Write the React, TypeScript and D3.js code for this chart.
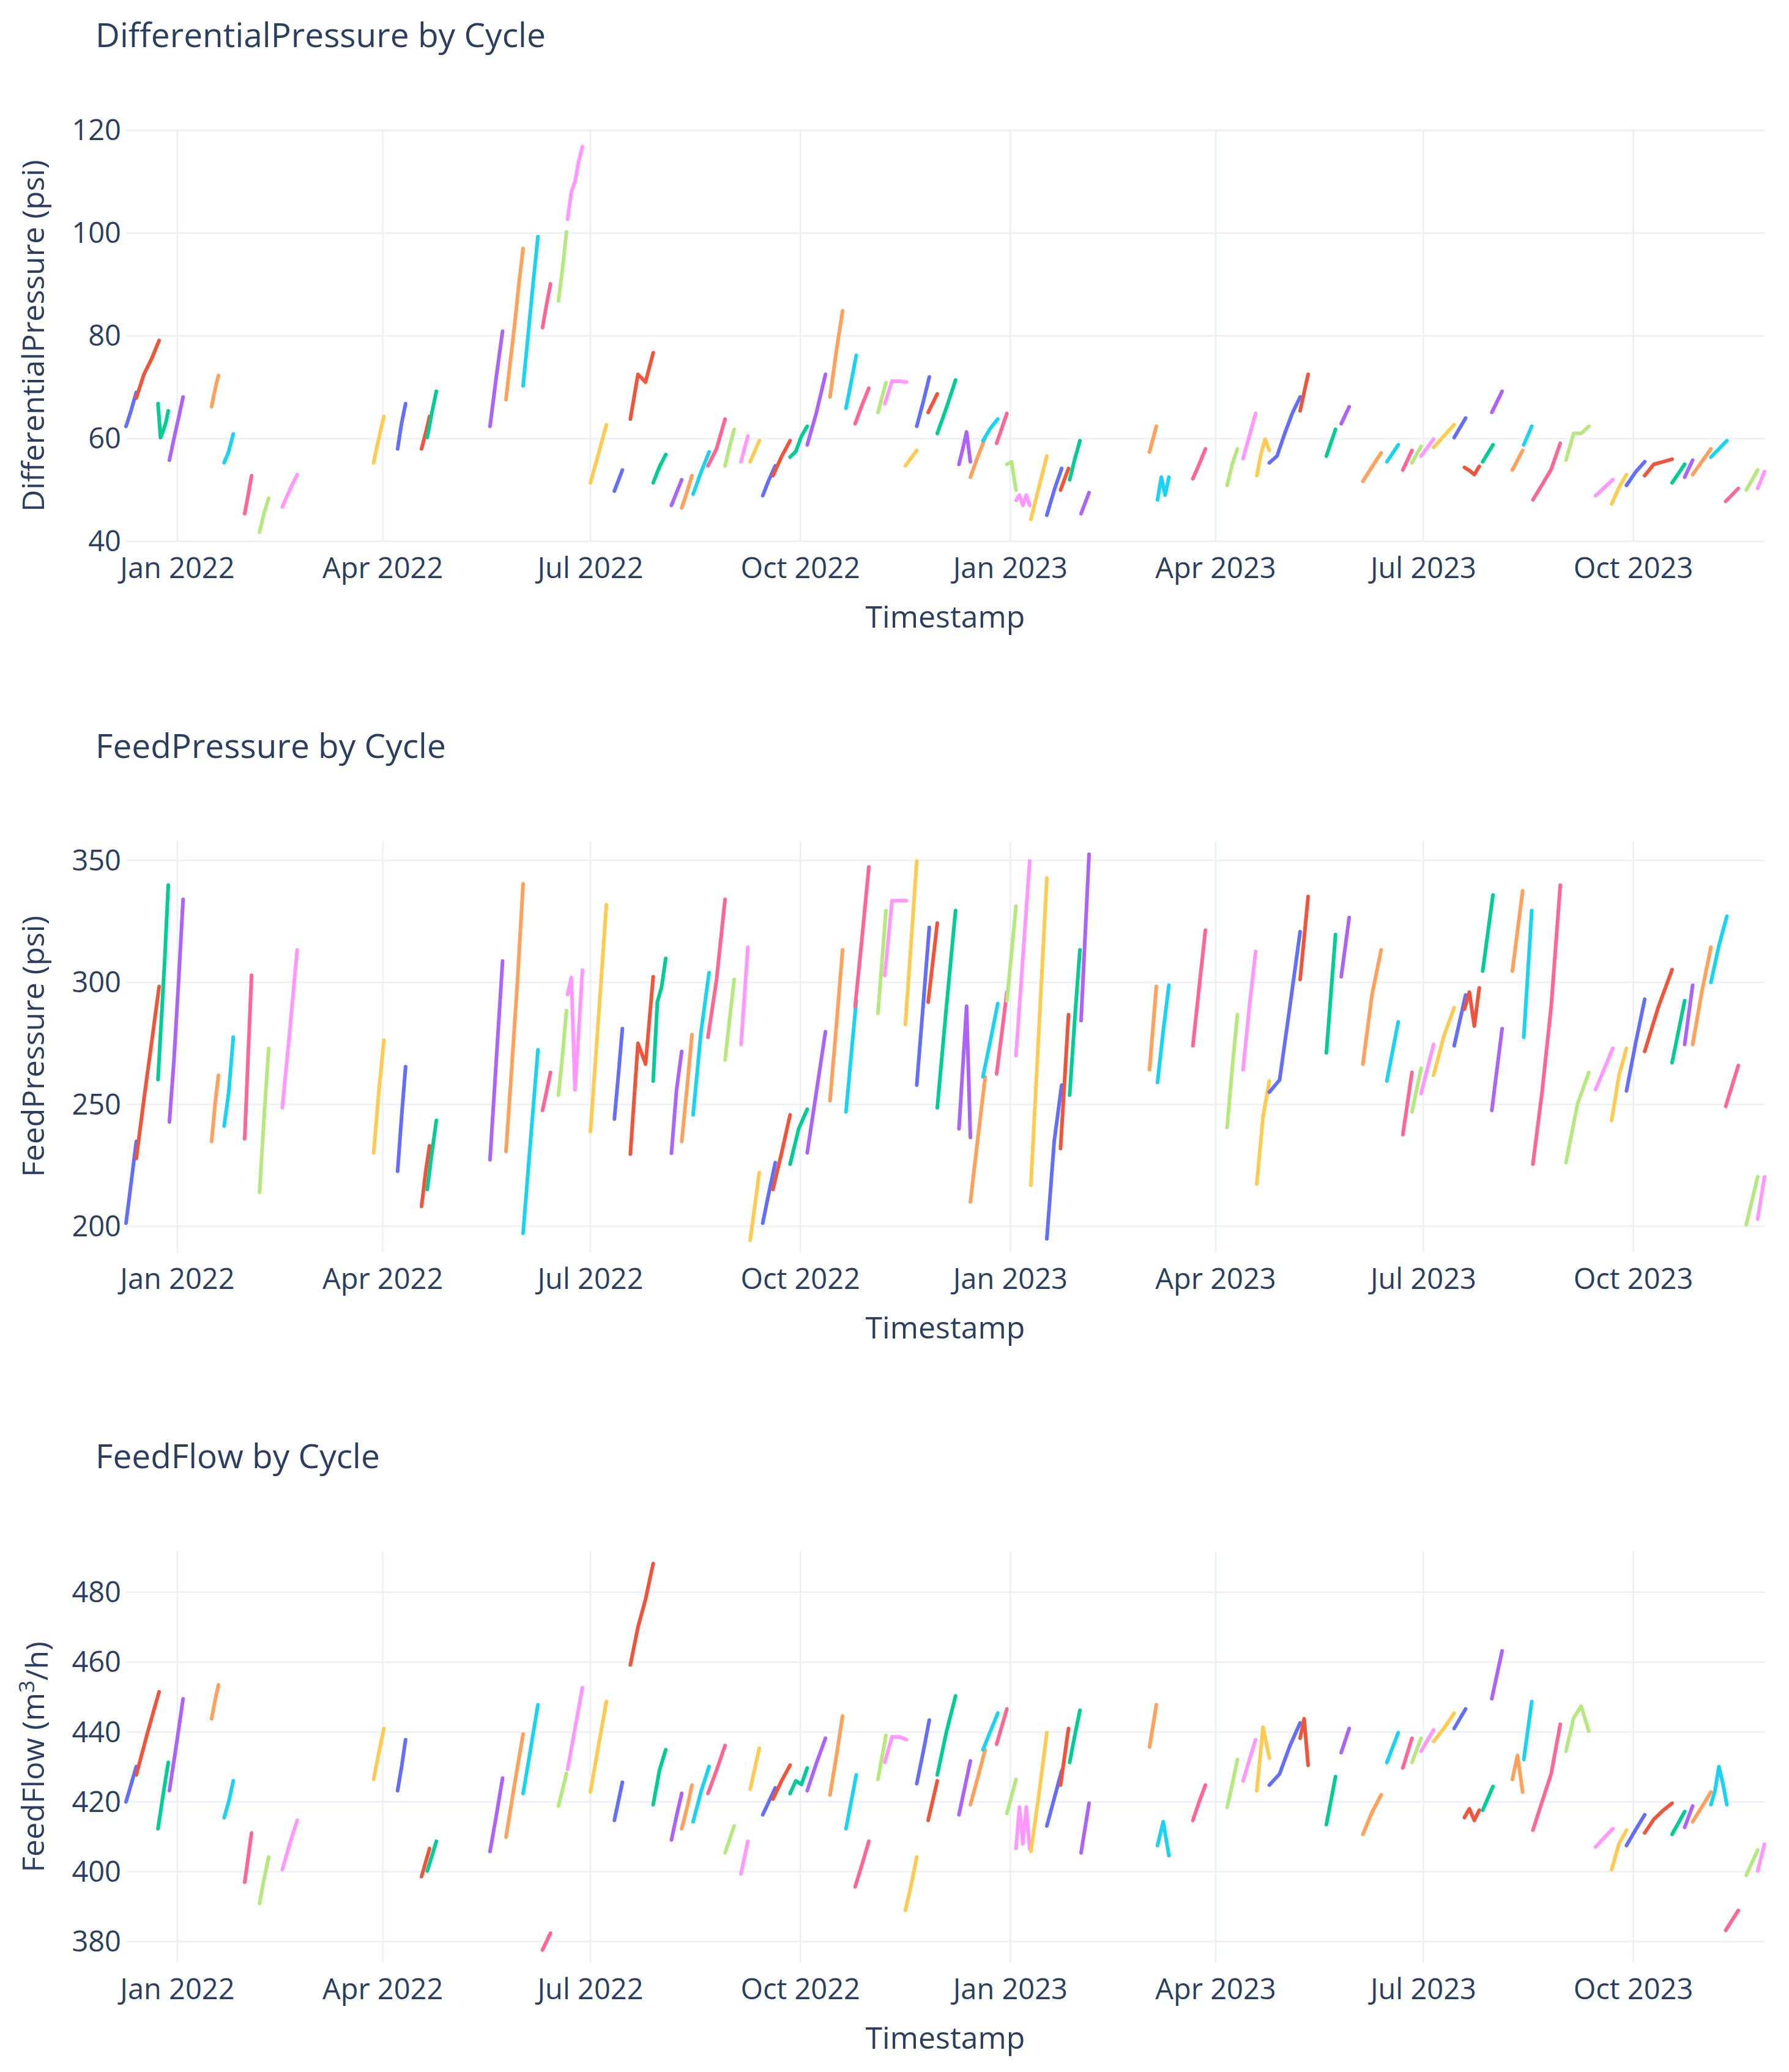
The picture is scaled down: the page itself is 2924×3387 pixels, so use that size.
import { useEffect, useRef } from "react";
import * as d3 from "d3";

// one entry per cleaning cycle (start / end of each run)
const cycleStart = [
  "2021-12-09T12", "2021-12-14T00", "2021-12-23T12", "2021-12-28T12", "2022-01-16T00",
  "2022-01-21T12", "2022-01-30T12", "2022-02-06T00", "2022-02-16T00", "2022-03-28T00",
  "2022-04-07T12", "2022-04-18T00", "2022-04-20T12", "2022-05-18T00", "2022-05-25T00",
  "2022-06-01T12", "2022-06-10T00", "2022-06-17T00", "2022-06-21T00", "2022-07-01T00",
  "2022-07-11T12", "2022-07-18T12", "2022-07-28T12", "2022-08-05T12", "2022-08-10T00",
  "2022-08-15T00", "2022-08-21T12", "2022-08-29T00", "2022-09-05T00", "2022-09-09T00",
  "2022-09-14T12", "2022-09-19T00", "2022-09-26T12", "2022-10-04T00", "2022-10-14T00",
  "2022-10-21T00", "2022-10-25T00", "2022-11-04T00", "2022-11-07T00", "2022-11-16T00",
  "2022-11-21T00", "2022-11-26T00", "2022-11-30T00", "2022-12-09T12", "2022-12-14T12",
  "2022-12-20T00", "2022-12-26T00", "2022-12-30T12", "2023-01-03T12", "2023-01-10T00",
  "2023-01-17T00", "2023-01-23T00", "2023-01-27T00", "2023-02-01T00", "2023-03-03T00",
  "2023-03-06T12", "2023-03-22T00", "2023-04-06T00", "2023-04-13T00", "2023-04-19T00",
  "2023-04-24T12", "2023-05-08T00", "2023-05-19T12", "2023-05-26T00", "2023-06-04T12",
  "2023-06-15T00", "2023-06-22T00", "2023-06-26T00", "2023-06-30T00", "2023-07-05T12",
  "2023-07-14T12", "2023-07-19T00", "2023-07-27T00", "2023-07-31T00", "2023-08-09T00",
  "2023-08-14T00", "2023-08-18T00", "2023-09-01T12", "2023-09-14T12", "2023-09-21T12",
  "2023-09-28T00", "2023-10-06T00", "2023-10-18T00", "2023-10-23T12", "2023-10-27T00",
  "2023-11-04T00", "2023-11-10T12", "2023-11-19T12", "2023-11-24T12",
];

const cycleEnd = [
  "2021-12-14T00", "2021-12-24T00", "2021-12-28T00", "2022-01-03T12", "2022-01-19T00",
  "2022-01-25T12", "2022-02-02T12", "2022-02-10T00", "2022-02-22T12", "2022-04-01T12",
  "2022-04-11T00", "2022-04-21T12", "2022-04-24T12", "2022-05-23T12", "2022-06-01T12",
  "2022-06-08T00", "2022-06-13T12", "2022-06-20T12", "2022-06-27T12", "2022-07-08T00",
  "2022-07-15T00", "2022-07-28T12", "2022-08-03T00", "2022-08-10T00", "2022-08-14T12",
  "2022-08-22T00", "2022-08-29T00", "2022-09-02T00", "2022-09-08T00", "2022-09-13T00",
  "2022-09-20T00", "2022-09-26T12", "2022-10-04T00", "2022-10-12T00", "2022-10-19T12",
  "2022-10-25T12", "2022-10-31T00", "2022-11-07T12", "2022-11-16T12", "2022-11-21T00",
  "2022-11-26T12", "2022-11-30T00", "2022-12-08T00", "2022-12-14T12", "2022-12-21T00",
  "2022-12-26T12", "2022-12-30T12", "2023-01-03T12", "2023-01-09T12", "2023-01-17T00",
  "2023-01-23T12", "2023-01-26T12", "2023-01-31T12", "2023-02-04T12", "2023-03-06T00",
  "2023-03-11T12", "2023-03-27T12", "2023-04-10T12", "2023-04-18T12", "2023-04-24T12",
  "2023-05-08T00", "2023-05-11T12", "2023-05-23T12", "2023-05-29T12", "2023-06-12T12",
  "2023-06-20T00", "2023-06-26T00", "2023-06-30T00", "2023-07-05T12", "2023-07-14T12",
  "2023-07-19T12", "2023-07-25T12", "2023-07-31T12", "2023-08-04T12", "2023-08-13T12",
  "2023-08-17T12", "2023-08-30T00", "2023-09-11T12", "2023-09-22T00", "2023-09-28T00",
  "2023-10-06T00", "2023-10-18T00", "2023-10-23T12", "2023-10-27T00", "2023-11-04T00",
  "2023-11-11T00", "2023-11-16T00", "2023-11-24T12", "2023-11-27T12",
];

// readings along each cycle, evenly spaced in time between start and end
const dpValues = [
  [62.4, 65.5, 69], [67.9, 72.5, 75.5, 79.1], [66.8, 60.2, 61.5, 63, 65.4], [55.8, 60, 64, 68.1],
  [66.2, 68.5, 70.5, 72.3], [55.3, 57.5, 60.9], [45.4, 49, 52.8], [41.8, 45.5, 48.4],
  [46.7, 50, 53], [55.3, 58.5, 61.5, 64.3], [58, 63, 66.8], [58, 61, 64.3],
  [60.2, 65, 69.2], [62.4, 72, 80.9], [67.6, 75, 82, 90, 97], [70.3, 80, 90, 99.3],
  [81.6, 86, 90.1], [86.8, 93, 100.2], [102.7, 108, 110, 114, 116.8], [51.4, 57, 62.7],
  [49.8, 53.9], [63.8, 72.5, 71, 76.7], [51.4, 54.5, 56.9], [47, 49.5, 52],
  [46.5, 49.5, 52.8], [49.2, 53.5, 57.4], [54.7, 58, 63.8], [54.7, 58.5, 61.8],
  [55.5, 60.5], [55.5, 59.6], [48.9, 52, 54.7], [52.8, 56.5, 59.6],
  [56.4, 57.5, 60.5, 62.4], [58.8, 65, 72.5], [68.1, 77, 84.9], [65.9, 71, 76.2],
  [62.9, 66.5, 69.8], [65.1, 70.9], [66.8, 71.2, 71.2, 71], [54.7, 57.7],
  [62.4, 67, 72], [65.1, 68.7], [61, 66, 71.4], [55, 58, 61.3, 55.5],
  [52.5, 56.5, 60.2], [59.6, 62, 63.8], [59.1, 62, 64.9], [55, 55.5, 50],
  [48, 49, 47, 49, 47], [44.3, 50.5, 56.6], [45.1, 50, 54.2], [50, 54.2],
  [52, 56, 59.6], [45.4, 49.5], [57.4, 62.4], [48.1, 52.5, 49, 52.5],
  [52.2, 55, 58], [50.9, 55, 58], [56.1, 60.5, 64.9], [52.8, 57, 59.9, 57.7],
  [55.3, 56.6, 61, 65, 68.1], [65.4, 69, 72.5], [56.6, 61.8], [62.9, 66.2],
  [51.7, 54.5, 57.2], [55.5, 58.8], [53.9, 57.7], [55.3, 58.5],
  [56.6, 59.9], [58.3, 60.5, 62.7], [60.2, 64], [54.4, 53.8, 53, 54.6],
  [55.5, 58.8], [65.1, 69.2], [53.9, 57.7], [58.8, 62.4],
  [48.1, 51, 54, 59.1], [55.8, 61, 61, 62.4], [48.9, 52], [47.3, 50.5, 53],
  [50.9, 53.5, 55.5], [52.8, 55, 55.5, 56], [51.4, 55], [52.5, 55.8],
  [53, 55.5, 58], [56.4, 58, 59.6], [47.8, 50.3], [50, 53.9], [50.3, 53.6],
];

const fpValues = [
  [201.3, 218, 234.8], [227.8, 252, 275, 298.3], [260.2, 285, 310, 339.8], [242.8, 268, 300, 334],
  [234.8, 250, 261.9], [241.1, 255, 277.5], [235.9, 270, 302.9], [213.9, 245, 272.9],
  [248.6, 280, 313.3], [230.1, 255, 276.3], [222.6, 245, 265.4], [208.2, 222, 233],
  [215.1, 230, 243.4], [227.3, 268, 308.7], [230.7, 265, 300, 340.4], [197.2, 235, 272.3],
  [247.5, 255, 263.1], [253.8, 270, 288.5], [295, 302, 256, 280, 305], [238.8, 285, 331.8],
  [244, 262, 281], [229.6, 275, 266.5, 302.3], [259.6, 292, 298, 309.8], [230, 256, 271.7],
  [234.8, 256, 278.6], [245.7, 280, 304], [277.5, 301, 334], [268.2, 285, 301.2],
  [274.6, 314.4], [194.3, 222], [201.3, 214, 226.1], [215.1, 230, 245.7],
  [225.5, 240, 248], [230.1, 255, 279.8], [251.5, 282, 313.3], [246.9, 270, 292.5],
  [290.2, 318, 347.3], [287.3, 329.4], [302.9, 333.5, 333.5, 333.5], [282.7, 316, 349.7],
  [257.9, 290, 322.5], [291.9, 324.3], [248.6, 290, 329.4], [240, 265, 290.2, 236.5],
  [210, 236, 261.3], [261.3, 276, 291.3], [262.5, 279, 296], [292.5, 331.2],
  [270, 310, 349.7], [216.9, 280, 342.7], [194.9, 235, 257.9], [231.9, 286.7],
  [253.8, 285, 313.3], [284.4, 352.5], [264.2, 298.3], [259, 280, 298.8],
  [274, 298, 321.4], [240.5, 265, 286.7], [264.2, 290, 312.7], [217.4, 245, 259.6],
  [255, 260, 290, 320.8], [301.2, 335.2], [271.1, 319.6], [302.3, 326.6],
  [266.5, 295, 313.3], [259.6, 283.8], [237.6, 263.1], [246.9, 264.8],
  [254.4, 274.6], [261.9, 278, 289.6], [274, 294.8], [289, 296, 282.1, 297.7],
  [304.6, 335.8], [247.5, 281], [304.6, 337.5], [277.5, 329.4],
  [225.5, 255, 290, 339.8], [226.1, 250, 263.1], [256.1, 272.9], [243.4, 262, 272.9],
  [255.5, 275, 293.1], [271.7, 290, 305.2], [267.1, 292.5], [274.6, 298.8],
  [274.6, 296, 314.4], [300, 315, 327.1], [249.2, 265.9], [200.7, 220.3], [203, 220.3],
];

const ffValues = [
  [420, 430.1], [427.7, 440, 451.5], [412.3, 422, 431.3], [423.2, 436, 449.5],
  [443.8, 449, 453.5], [415.5, 420, 426], [397, 404, 411.1], [390.9, 398, 404.2],
  [400.6, 408, 414.7], [426.4, 434, 441], [423.2, 430, 437.8], [398.6, 406.6],
  [400.2, 408.7], [405.8, 416, 426.8], [409.9, 425, 439.4], [422.4, 435, 447.8],
  [377.6, 382.4], [418.8, 428.1], [429.3, 441, 452.7], [422.8, 436, 448.7],
  [414.7, 425.6], [459.2, 470, 478, 488.2], [419.2, 429, 434.9], [409.1, 416, 422.4],
  [412.3, 418, 424.8], [414.3, 423, 430.1], [422.4, 429, 436.1], [405.4, 413.1],
  [399.4, 408.7], [423.6, 435.3], [416.3, 424], [420.8, 426, 430.5],
  [422.4, 426, 425, 429.7], [423.2, 431, 438.2], [422, 433, 444.6], [412.3, 420, 427.7],
  [395.7, 402, 408.7], [426.4, 439], [431.3, 438.6, 438.6, 437.8], [388.9, 396, 404.2],
  [425.2, 434, 443.4], [414.7, 426], [427.7, 440, 450.3], [416.3, 424, 431.7],
  [419.2, 427, 434.9], [434.9, 445.4], [436.5, 446.6], [416.7, 426.4],
  [406.7, 418.5, 408, 418.5, 406.5], [405.8, 422, 439.8], [413.1, 421, 428.9], [424.8, 441],
  [431.3, 439, 446.2], [405.4, 419.6], [435.7, 447.8], [407.5, 414.3, 404.6],
  [414.7, 420, 424.8], [418.4, 425, 432.1], [426, 432, 437.8], [423.2, 441.4, 432.5],
  [424.8, 428, 436, 442.6], [438.2, 443.8, 430.5], [413.5, 427.2], [434.1, 441],
  [410.7, 417, 422], [431.3, 439.8], [429.7, 438.2], [431.3, 438.2],
  [434.5, 440.6], [437.3, 441, 445.4], [441, 446.6], [415.5, 418, 414.7, 417.6],
  [417.6, 424.4], [449.5, 463.2], [426.4, 433.3, 422.8], [432.1, 448.7],
  [411.9, 420, 428, 442.2], [434.5, 444, 447.4, 440.2], [407.1, 412.3], [400.6, 408, 411.9],
  [407.5, 412, 416.3], [411.1, 415, 417.5, 419.6], [410.7, 417.2], [412.7, 418.8],
  [414.3, 418.5, 422.8], [419.2, 423, 430.1, 425.2, 419.2], [383.2, 388.9], [399, 406.2], [400.2, 407.9],
];

const dpTicks = [40, 60, 80, 100, 120];
const fpTicks = [200, 250, 300, 350];
const ffTicks = [380, 400, 420, 440, 460, 480];

const palette = [
  "#636efa", "#EF553B", "#00cc96", "#ab63fa", "#FFA15A",
  "#19d3f3", "#FF6692", "#B6E880", "#FF97FF", "#FECB52",
];

const panels = [
  { title: "DifferentialPressure by Cycle", yTitle: "DifferentialPressure (psi)", values: dpValues, domain: [40, 120], ticks: dpTicks },
  { title: "FeedPressure by Cycle", yTitle: "FeedPressure (psi)", values: fpValues, domain: [189.5, 358], ticks: fpTicks },
  { title: "FeedFlow by Cycle", yTitle: "FeedFlow (m3/h)", values: ffValues, domain: [374, 491.7], ticks: ffTicks },
];

const W = 2924;
const H = 3387;
const left = 206;
const right = 2884;
const firstTop = 213;
const step = 1161.5;
const plotH = 672;
const font = "'Open Sans', verdana, arial, sans-serif";
const ink = "#2a3f5f";

export default function App() {
  const svgRef = useRef(null);

  useEffect(() => {
    const svg = d3.select(svgRef.current);
    svg.selectAll("*").remove();

    const parse = d3.timeParse("%Y-%m-%dT%H");
    const starts = cycleStart.map(parse);
    const ends = cycleEnd.map(parse);

    const x = d3.scaleTime()
      .domain([d3.min(starts), d3.max(ends)])
      .range([left, right]);
    const xTicks = x.ticks(d3.timeMonth.every(3));
    const fmt = d3.timeFormat("%b %Y");

    svg.append("rect").attr("width", W).attr("height", H).attr("fill", "white");

    panels.forEach((p, pi) => {
      const top = firstTop + pi * step;
      const bottom = top + plotH;
      const y = d3.scaleLinear().domain(p.domain).range([bottom, top]);
      const g = svg.append("g");

      // grid
      g.selectAll(".vgrid")
        .data(xTicks)
        .enter()
        .append("line")
        .attr("x1", d => x(d)).attr("x2", d => x(d))
        .attr("y1", top).attr("y2", bottom)
        .attr("stroke", "#ebf0f8").attr("stroke-width", 2.5);
      g.selectAll(".hgrid")
        .data(p.ticks)
        .enter()
        .append("line")
        .attr("x1", left).attr("x2", right)
        .attr("y1", d => y(d)).attr("y2", d => y(d))
        .attr("stroke", "#ebf0f8").attr("stroke-width", 2.5);

      // cycles
      const line = d3.line()
        .x(d => x(d[0]))
        .y(d => y(d[1]));
      p.values.forEach((vals, i) => {
        const t0 = +starts[i];
        const t1 = +ends[i];
        const pts = vals.map((v, k) => [new Date(t0 + (t1 - t0) * k / (vals.length - 1)), v]);
        g.append("path")
          .attr("d", line(pts))
          .attr("fill", "none")
          .attr("stroke", palette[i % palette.length])
          .attr("stroke-width", 6)
          .attr("stroke-linejoin", "round")
          .attr("stroke-linecap", "round");
      });

      // tick labels
      g.selectAll(".ylab")
        .data(p.ticks)
        .enter()
        .append("text")
        .attr("x", left - 8)
        .attr("y", d => y(d))
        .attr("dy", "0.35em")
        .attr("text-anchor", "end")
        .attr("font-family", font)
        .attr("font-size", 47)
        .attr("fill", ink)
        .text(d => d);
      g.selectAll(".xlab")
        .data(xTicks)
        .enter()
        .append("text")
        .attr("x", d => x(d))
        .attr("y", bottom + 60)
        .attr("text-anchor", "middle")
        .attr("font-family", font)
        .attr("font-size", 47)
        .attr("fill", ink)
        .text(d => fmt(d));

      // titles
      g.append("text")
        .attr("x", 156)
        .attr("y", top - 136)
        .attr("font-family", font)
        .attr("font-size", 55)
        .attr("fill", ink)
        .text(p.title);
      g.append("text")
        .attr("x", (left + right) / 2)
        .attr("y", bottom + 141)
        .attr("text-anchor", "middle")
        .attr("font-family", font)
        .attr("font-size", 50)
        .attr("fill", ink)
        .text("Timestamp");

      const yt = g.append("text")
        .attr("transform", `translate(54,${(top + bottom) / 2}) rotate(-90)`)
        .attr("dy", "0.35em")
        .attr("text-anchor", "middle")
        .attr("font-family", font)
        .attr("font-size", 50)
        .attr("fill", ink);
      if (p.yTitle.includes("m3")) {
        yt.append("tspan").text("FeedFlow (m");
        yt.append("tspan").attr("dy", "-0.45em").attr("font-size", 35).text("3");
        yt.append("tspan").attr("dy", "0.45em").text("/h)");
      } else {
        yt.text(p.yTitle);
      }
    });
  }, []);

  return (
    <svg
      ref={svgRef}
      width={W}
      height={H}
      style={{ position: "absolute", left: 0, top: 0 }}
    />
  );
}
